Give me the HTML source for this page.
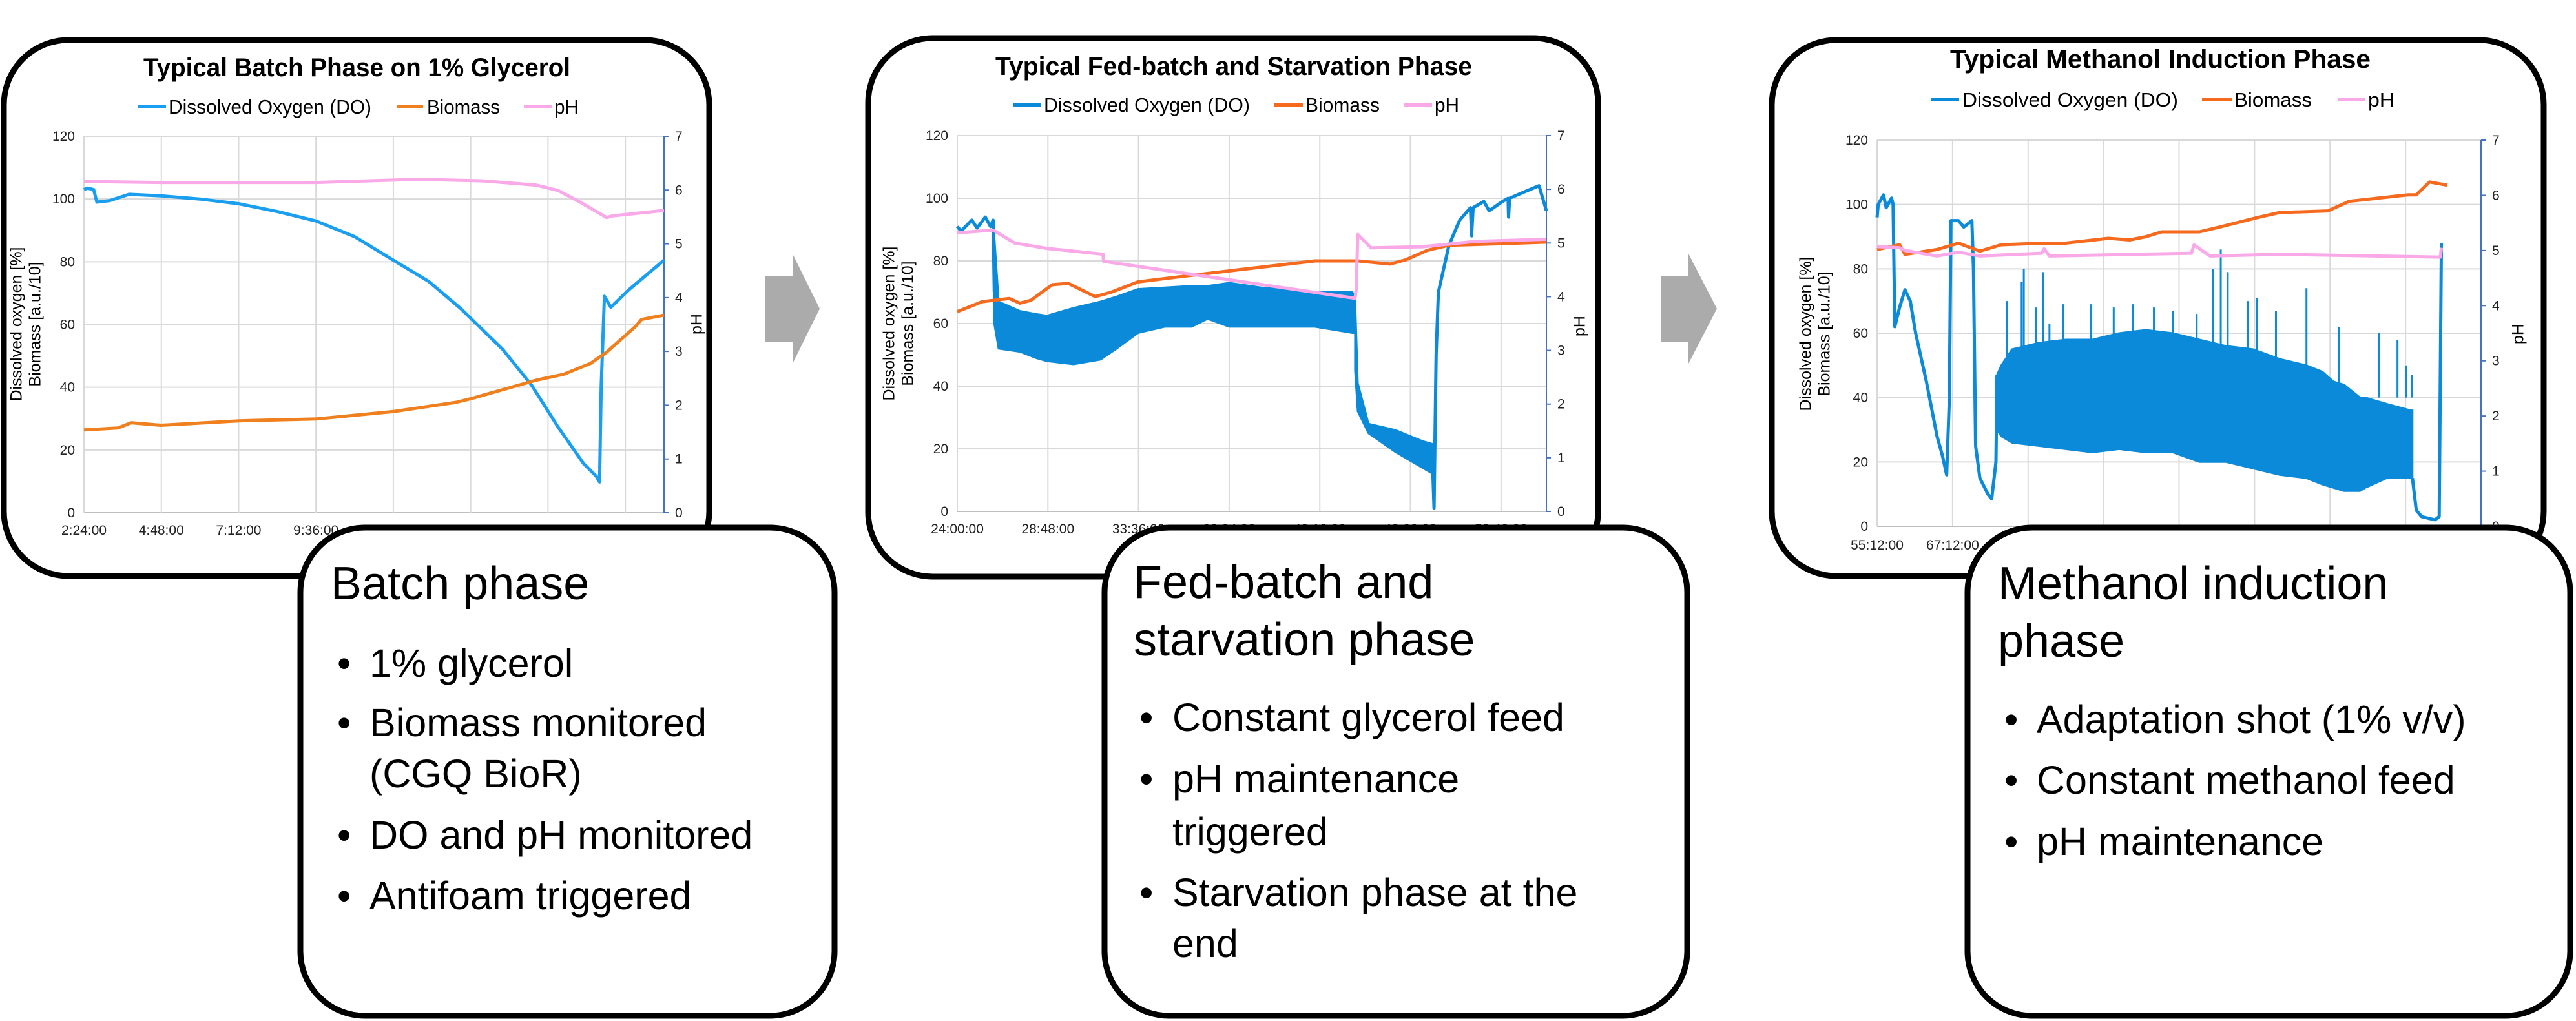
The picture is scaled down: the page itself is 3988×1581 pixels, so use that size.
<!DOCTYPE html>
<html><head><meta charset="utf-8"><style>
html,body{margin:0;padding:0;background:#fff;}
svg{display:block;font-family:"Liberation Sans",Arial,sans-serif;}
</style></head><body>
<svg id="root" width="3988" height="1581" viewBox="0 0 3988 1581" xmlns="http://www.w3.org/2000/svg">
  <rect x="0" y="0" width="3988" height="1581" fill="#fff"/>
  <g id="charts"></g>
  <g id="arrows">
    <polygon points="1185,427 1227,427 1227,393 1269,478 1227,563 1227,530 1185,530" fill="#ababab"/>
    <polygon points="2571,427 2614,427 2614,393 2658,478 2614,563 2614,530 2571,530" fill="#ababab"/>
  </g>
  <g id="boxes">
    <g>
      <rect x="465" y="817" width="827" height="756" rx="100" ry="100" fill="#fff" stroke="#000" stroke-width="9"/>
      <text x="512" y="928" font-size="72">Batch phase</text>
      <g font-size="61">
        <text x="522" y="1048">•</text><text x="572" y="1048">1% glycerol</text>
        <text x="522" y="1140">•</text><text x="572" y="1140">Biomass monitored</text>
        <text x="572" y="1219">(CGQ BioR)</text>
        <text x="522" y="1314">•</text><text x="572" y="1314">DO and pH monitored</text>
        <text x="522" y="1408">•</text><text x="572" y="1408">Antifoam triggered</text>
      </g>
    </g>
    <g>
      <rect x="1710" y="817" width="902" height="756" rx="100" ry="100" fill="#fff" stroke="#000" stroke-width="9"/>
      <text x="1755" y="926" font-size="72">Fed-batch and</text>
      <text x="1755" y="1015" font-size="72">starvation phase</text>
      <g font-size="61">
        <text x="1764" y="1132">•</text><text x="1815" y="1132">Constant glycerol feed</text>
        <text x="1764" y="1227">•</text><text x="1815" y="1227">pH maintenance</text>
        <text x="1815" y="1309">triggered</text>
        <text x="1764" y="1403">•</text><text x="1815" y="1403">Starvation phase at the</text>
        <text x="1815" y="1482">end</text>
      </g>
    </g>
    <g>
      <rect x="3046" y="817" width="933" height="756" rx="100" ry="100" fill="#fff" stroke="#000" stroke-width="9"/>
      <text x="3093" y="928" font-size="72">Methanol induction</text>
      <text x="3093" y="1017" font-size="72">phase</text>
      <g font-size="61">
        <text x="3103" y="1135">•</text><text x="3153" y="1135">Adaptation shot (1% v/v)</text>
        <text x="3103" y="1229">•</text><text x="3153" y="1229">Constant methanol feed</text>
        <text x="3103" y="1324">•</text><text x="3153" y="1324">pH maintenance</text>
      </g>
    </g>
  </g>
</svg>
<script>
// ---------- Panel 1 data (hours) ----------
var p1DoT = [2.4,2.5,2.7,2.8,3.2,3.8,4.8,6.0,7.2,8.4,9.6,10.8,12.0,13.1,14.1,15.4,16.3,17.1,17.9,18.3,18.4,18.45,18.55,18.75,19.3,20.4];
var p1DoV = [103,103.5,103,99,99.5,101.5,101,100,98.5,96,93,88,80.5,73.7,65,52,40.5,27.5,15.7,11.6,9.8,40,69,65.5,71,80.5];
var p1BioT = [2.4,3.45,3.87,4.78,7.2,9.62,12.03,13.95,14.42,16.45,17.28,18.12,18.62,19.53,19.7,20.4];
var p1BioV = [26.4,27,28.7,27.9,29.3,29.9,32.3,35.2,36.4,42.3,44.1,47.6,51.2,59.5,61.6,63];
var p1PhT = [2.4,4.8,9.6,12.78,14.78,16.45,17.12,17.78,18.62,18.8,20.4];
var p1PhV = [6.16,6.14,6.14,6.2,6.17,6.09,5.99,5.78,5.49,5.52,5.62];
var p1XTicks = [2.4,4.8,7.2,9.6,12.0,14.4,16.8,19.2];
var p1XLabels = ["2:24:00","4:48:00","7:12:00","9:36:00","12:00:00","14:24:00","16:48:00","19:12:00"];

// ---------- Panel 2 data ----------
var p2DoT = [24,24.2,24.77,25.05,25.48,25.76,25.9,25.96];
var p2DoV = [91,89.5,93,90.5,94,91,93,70];
var p2BandT = [25.96,26.19,27.32,28.18,28.74,30.16,31.58,32.44,33.57,34.99,36.41,37.26,38.4,40.1,42.94,44.93,45.07];
var p2BandLo = [60,52,51,49,48,47,48.5,52,57,59,59,61.5,59,59,59,57,57];
var p2BandHi = [88,67,64,63,62.5,65,67,68.6,71,71.5,72,72,73,71.5,70,70,68];
var p2Band2T = [45.07,45.21,45.78,47.2,48.62,49.19];
var p2Band2Lo = [45,32,25,19,14,12];
var p2Band2Hi = [68,41,28,26,22.5,21.5];
var p2Do2T = [49.19,49.25,49.36,49.48,50.04,50.61,51.18,51.24,51.32,51.89,52.17,52.88,53.17,53.2,53.25,54.02,54.81,55.01,55.2];
var p2Do2V = [12,1,50,70,85,93,97,88,97,99,96,99,100,94,100,102,104,100,96];
var p2BioT = [24,25.33,26.75,27.32,27.89,29.03,29.88,31.3,32.15,33.57,35.84,38.68,41.52,42.94,45.21,46.92,47.77,48.91,50.04,52.88,55.2];
var p2BioV = [63.8,67,68,66.5,67.4,72.4,72.8,68.6,70,73.3,75,77,79,80,80,79,80.4,83.4,85,85.5,86];
var p2PhT = [24,25.9,27.04,28.74,31.72,31.75,45.07,45.13,45.21,45.92,48.62,51.46,55.2];
var p2PhV = [5.19,5.24,5.0,4.9,4.79,4.66,3.97,4.14,5.16,4.91,4.93,5.03,5.07];
var p2XTicks = [24,28.8,33.6,38.4,43.2,48,52.8];
var p2XLabels = ["24:00:00","28:48:00","33:36:00","38:24:00","43:12:00","48:00:00","52:48:00"];

// ---------- Panel 3 data ----------
var p3DoT = [55.2,55.37,56.22,56.65,57.5,57.75,58.01,58.77,59.63,60.48,61.33,63.03,64.73,65.58,66.26,66.69,66.94,68.14,68.99,70.26,70.52,70.86,71.54,72.82,73.41,74.09,74.26];
var p3DoV = [96,100,103,99,102,100,62,68,73.5,70,60,45,28,22,16,40,95,95,93,95,80,25,15,10,8.5,20,47];
var p3BandT = [74.26,74.94,76.65,80.9,85.16,89.41,93.67,97.92,102.18,106.43,110.69,114.94,119.2,123.45,126.0,127.71,129.41,131.96,132.81,136.22,140.05,140.3];
var p3BandLo = [30,28,26,25,24,23,24,23,23,20,20,18,16,15,13,12,11,11,12,15,15,15];
var p3BandHi = [47,50,55,57,58,58,60,61,60,58,56,55,52,50,48,45,44,40,40,38,36,36];
var p3SpikeT = [75.79,78.18,78.52,80.47,81.58,82.6,84.81,89.24,92.81,95.88,99.2,102.18,106.0,108.64,109.83,110.94,114.09,115.54,118.6,123.45,128.56,134.94,137.92,139.28,140.2];
var p3SpikeV = [70,76,80,68,79,63,69,69,68,69,68,67,66,80,86,79,70,71,67,74,62,60,58,50,47];
var p3Do2T = [140.3,140.9,141.75,143.87,144.55,144.9];
var p3Do2V = [15,5,3,2,3,88];
var p3BioT = [55.2,58.77,59.63,64.73,68.14,71.54,74.94,81.75,85.16,91.96,95.37,97.92,100.47,106.43,110.69,115.79,119.2,126.85,130.26,139.62,140.9,143.02,145.83];
var p3BioV = [86,87.5,84.5,86,88,85.5,87.5,88,88,89.5,89,90,91.5,91.5,93.5,96,97.5,98,101,103,103,107,106];
var p3PhT = [55.2,58.77,59.63,64.73,68.14,71.54,81.33,81.75,82.6,105.15,105.58,108.13,119.2,144.73,144.9];
var p3PhV = [5.07,5.05,5.0,4.9,4.97,4.9,4.95,5.03,4.9,4.95,5.1,4.9,4.93,4.88,5.05];
var p3XTicks = [55.2,67.2,79.2,91.2,103.2,115.2,127.2,139.2];
var p3XLabels = ["55:12:00","67:12:00","79:12:00","91:12:00","103:12:00","115:12:00","127:12:00","139:12:00"];

var leftTicks = [0,20,40,60,80,100,120];
var rightTicks = [0,1,2,3,4,5,6,7];

var NS = "http://www.w3.org/2000/svg";
function mk(tag, parent){ var e = document.createElementNS(NS, tag); parent.appendChild(e); return e; }

var panels = [
 {name:"batch", box:[6,62,1092,830], x0:130, x1:1028, yT:211, yB:794, xMin:2.4, xMax:20.4,
  title:"Typical Batch Phase on 1% Glycerol", titleX:222, titleW:661, titleY:118,
  legY:165, leg:[[214,257,261,314],[614,655,661,113],[811,854,858,38]],
  doColor:"#1a9ff0", bioColor:"#f07f1d", phColor:"#f9a8e8",
  yt1:27, yt2:56, ytY:502, phX:1080, phY:502, xLabY:828,
  doT:p1DoT, doV:p1DoV, bioT:p1BioT, bioV:p1BioV, phT:p1PhT, phV:p1PhV, xt:p1XTicks, xl:p1XLabels},
 {name:"fedbatch", box:[1344,59,1130,834], x0:1482, x1:2394, yT:210, yB:792, xMin:24, xMax:55.2,
  title:"Typical Fed-batch and Starvation Phase", titleX:1541, titleW:738, titleY:116,
  legY:162, leg:[[1569,1612,1616,319],[1973,2017,2021,115],[2174,2217,2221,38]],
  doColor:"#0a8ad9", bioColor:"#f56a1e", phColor:"#f9a8e8",
  yt1:1378, yt2:1407, ytY:501, phX:2447, phY:505, xLabY:826,
  doT:p2DoT, doV:p2DoV, bioT:p2BioT, bioV:p2BioV, phT:p2PhT, phV:p2PhV, xt:p2XTicks, xl:p2XLabels,
  bands:[[p2BandT,p2BandLo,p2BandHi],[p2Band2T,p2Band2Lo,p2Band2Hi]], extra:[[p2Do2T,p2Do2V]]},
 {name:"induction", box:[2743,62,1195,830], x0:2906, x1:3841, yT:217, yB:815, xMin:55.2, xMax:151.2,
  title:"Typical Methanol Induction Phase", titleX:3019, titleW:651, titleY:105,
  legY:154, leg:[[2990,3033,3038,334],[3409,3455,3459,120],[3619,3662,3666,41]],
  doColor:"#0a8ad9", bioColor:"#f56a1e", phColor:"#f9a8e8",
  yt1:2797, yt2:2826, ytY:517, phX:3900, phY:517, xLabY:851,
  doT:p3DoT, doV:p3DoV, bioT:p3BioT, bioV:p3BioV, phT:p3PhT, phV:p3PhV, xt:p3XTicks, xl:p3XLabels,
  bands:[[p3BandT,p3BandLo,p3BandHi]], extra:[[p3Do2T,p3Do2V]], spikes:[p3SpikeT,p3SpikeV]}
];

var root = document.getElementById("charts");
panels.forEach(function(p){
  var g = mk("g", root);
  
  
  function X(t){ return p.x0 + (t - p.xMin) / (p.xMax - p.xMin) * (p.x1 - p.x0); }
  function Y(v){ return p.yB - v / 120 * (p.yB - p.yT); }
  function YP(v){ return p.yB - v / 7 * (p.yB - p.yT); }

  var fr = mk("rect", g);
  fr.setAttribute("x", p.box[0]); fr.setAttribute("y", p.box[1]);
  fr.setAttribute("width", p.box[2]); fr.setAttribute("height", p.box[3]);
  fr.setAttribute("rx", 100); fr.setAttribute("fill", "#fff");
  fr.setAttribute("stroke", "#000"); fr.setAttribute("stroke-width", 9);
  
  

  var tt = mk("text", g);
  tt.setAttribute("x", p.titleX); tt.setAttribute("y", p.titleY);
  tt.setAttribute("font-size", 40); tt.setAttribute("font-weight", "bold");
  tt.setAttribute("textLength", p.titleW); tt.setAttribute("lengthAdjust", "spacingAndGlyphs");
  tt.textContent = p.title;
  
  

  var legNames = ["Dissolved Oxygen (DO)", "Biomass", "pH"];
  var legCols = [p.doColor, p.bioColor, p.phColor];
  for (var i = 0; i < 3; i++) {
    var L = p.leg[i];
    var lg = mk("g", g);
    
    
    var ln = mk("line", lg);
    ln.setAttribute("x1", L[0]); ln.setAttribute("x2", L[1]);
    ln.setAttribute("y1", p.legY); ln.setAttribute("y2", p.legY);
    ln.setAttribute("stroke", legCols[i]); ln.setAttribute("stroke-width", 6);
    
    
    var lt = mk("text", lg);
    lt.setAttribute("x", L[2]); lt.setAttribute("y", p.legY + 11);
    lt.setAttribute("font-size", 31);
    lt.setAttribute("textLength", L[3]); lt.setAttribute("lengthAdjust", "spacingAndGlyphs");
    lt.textContent = legNames[i];
    
    
  }

  // gridlines + left ticks
  leftTicks.forEach(function(v){
    var gl = mk("line", g);
    gl.setAttribute("x1", p.x0); gl.setAttribute("x2", p.x1);
    gl.setAttribute("y1", Y(v)); gl.setAttribute("y2", Y(v));
    gl.setAttribute("stroke", v === 0 ? "#bfbfbf" : "#d9d9d9"); gl.setAttribute("stroke-width", 2);
    
    
    var tl = mk("text", g);
    tl.setAttribute("x", p.x0 - 14); tl.setAttribute("y", Y(v) + 7);
    tl.setAttribute("font-size", 21); tl.setAttribute("text-anchor", "end"); tl.setAttribute("fill", "#222");
    tl.textContent = v;
    
    
  });
  p.xt.forEach(function(t, i){
    var gl = mk("line", g);
    gl.setAttribute("x1", X(t)); gl.setAttribute("x2", X(t));
    gl.setAttribute("y1", p.yT); gl.setAttribute("y2", p.yB);
    gl.setAttribute("stroke", "#d9d9d9"); gl.setAttribute("stroke-width", 2);
    
    
    var tl = mk("text", g);
    tl.setAttribute("x", X(t)); tl.setAttribute("y", p.xLabY);
    tl.setAttribute("font-size", 21); tl.setAttribute("text-anchor", "middle"); tl.setAttribute("fill", "#222");
    tl.textContent = p.xl[i];
    
    
  });
  // right axis
  var ra = mk("line", g);
  ra.setAttribute("x1", p.x1); ra.setAttribute("x2", p.x1);
  ra.setAttribute("y1", p.yT); ra.setAttribute("y2", p.yB);
  ra.setAttribute("stroke", "#4472c4"); ra.setAttribute("stroke-width", 2);
  
  
  rightTicks.forEach(function(v){
    var tk = mk("line", g);
    tk.setAttribute("x1", p.x1); tk.setAttribute("x2", p.x1 + 7);
    tk.setAttribute("y1", YP(v)); tk.setAttribute("y2", YP(v));
    tk.setAttribute("stroke", "#4472c4"); tk.setAttribute("stroke-width", 2);
    
    
    var tl = mk("text", g);
    tl.setAttribute("x", p.x1 + 17); tl.setAttribute("y", YP(v) + 7);
    tl.setAttribute("font-size", 21); tl.setAttribute("fill", "#222");
    tl.textContent = v;
    
    
  });
  // axis titles
  var a1 = mk("text", g);
  a1.setAttribute("transform", "translate(" + p.yt1 + "," + p.ytY + ") rotate(-90)");
  a1.setAttribute("font-size", 25); a1.setAttribute("text-anchor", "middle"); a1.setAttribute("dominant-baseline", "middle");
  a1.textContent = "Dissolved oxygen [%]";
  
  
  var a2 = mk("text", g);
  a2.setAttribute("transform", "translate(" + p.yt2 + "," + p.ytY + ") rotate(-90)");
  a2.setAttribute("font-size", 25); a2.setAttribute("text-anchor", "middle"); a2.setAttribute("dominant-baseline", "middle");
  a2.textContent = "Biomass [a.u./10]";
  
  
  var a3 = mk("text", g);
  a3.setAttribute("transform", "translate(" + p.phX + "," + p.phY + ") rotate(-90)");
  a3.setAttribute("font-size", 25); a3.setAttribute("text-anchor", "middle"); a3.setAttribute("dominant-baseline", "middle");
  a3.textContent = "pH";
  
  

  function pts(T, V, f){ return T.map(function(t, i){ return X(t).toFixed(1) + "," + f(V[i]).toFixed(1); }).join(" "); }
  function line(T, V, f, col, w, nm){
    var pl = mk("polyline", g);
    pl.setAttribute("points", pts(T, V, f));
    pl.setAttribute("fill", "none"); pl.setAttribute("stroke", col);
    pl.setAttribute("stroke-width", w); pl.setAttribute("stroke-linejoin", "round");
    
    
  }
  // DO series
  line(p.doT, p.doV, Y, p.doColor, 5, 'do-series');
  (p.bands || []).forEach(function(b){
    var up = b[0].map(function(t, i){ return X(t).toFixed(1) + "," + Y(b[2][i]).toFixed(1); });
    var lo = b[0].map(function(t, i){ return X(t).toFixed(1) + "," + Y(b[1][i]).toFixed(1); }).reverse();
    var pg = mk("polygon", g);
    pg.setAttribute("points", up.concat(lo).join(" "));
    pg.setAttribute("fill", p.doColor); pg.setAttribute("stroke", p.doColor); pg.setAttribute("stroke-width", 3);
    
    
  });
  if (p.spikes) {
    p.spikes[0].forEach(function(t, i){
      var sp = mk("line", g);
      sp.setAttribute("x1", X(t)); sp.setAttribute("x2", X(t));
      sp.setAttribute("y1", Y(40)); sp.setAttribute("y2", Y(p.spikes[1][i]));
      sp.setAttribute("stroke", p.doColor); sp.setAttribute("stroke-width", 3);
      
      
    });
  }
  (p.extra || []).forEach(function(e){ line(e[0], e[1], Y, p.doColor, 5, 'do-series-segment'); });
  line(p.bioT, p.bioV, Y, p.bioColor, 5, 'biomass-series');
  line(p.phT, p.phV, YP, p.phColor, 5, 'ph-series');
});
</script>
</body></html>
